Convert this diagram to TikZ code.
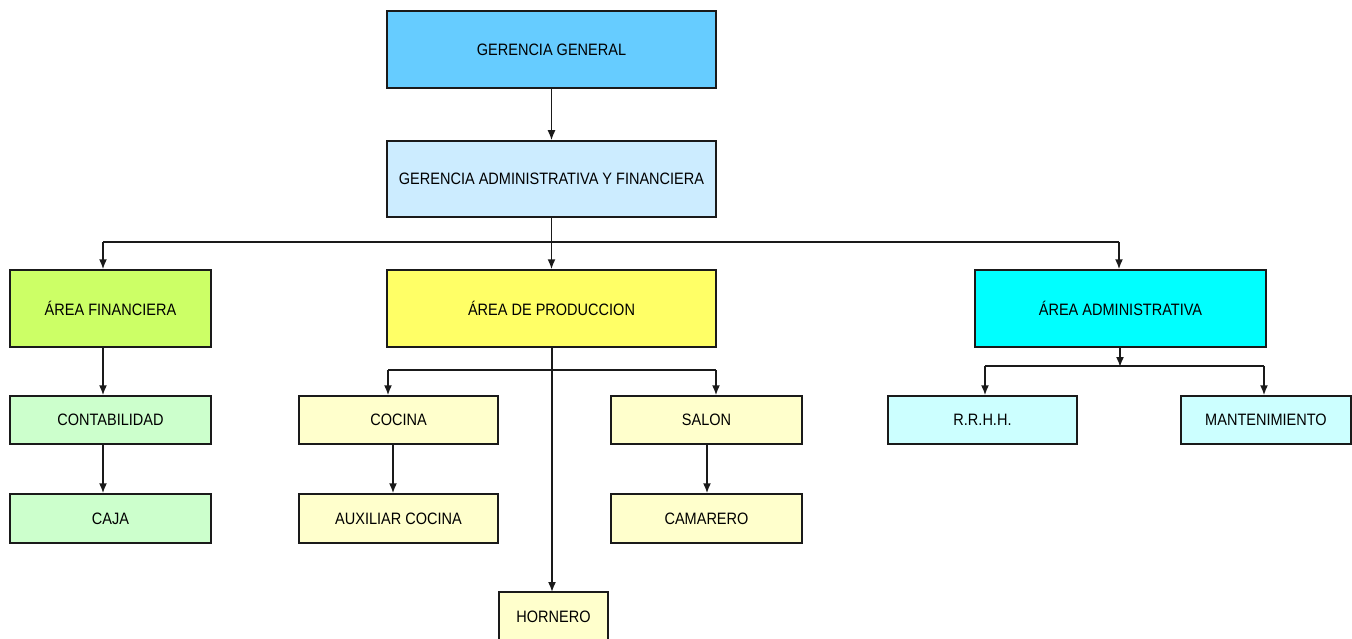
\documentclass[tikz,border=0pt]{standalone}
\usepackage{fontspec}
\setmainfont{Liberation Sans}[FakeStretch=0.88]
\usetikzlibrary{arrows.meta}
\definecolor{cGG}{HTML}{66CCFF}
\definecolor{cGAF}{HTML}{CCECFF}
\definecolor{cAF}{HTML}{CCFF66}
\definecolor{cAP}{HTML}{FFFF66}
\definecolor{cAA}{HTML}{00FFFF}
\definecolor{cFin}{HTML}{CCFFCC}
\definecolor{cProd}{HTML}{FFFFCC}
\definecolor{cAdm}{HTML}{CCFFFF}
\definecolor{cLine}{HTML}{1A1A1A}
\tikzset{
  box/.style={draw=cLine, line width=1.5pt, inner sep=0pt, font=\fontsize{16.5}{19}\selectfont, text=black},
  link/.style={draw=cLine, line width=1.6pt},
  arr/.style={link, -{Latex[length=10pt,width=8pt]}},
}
\begin{document}
\begin{tikzpicture}[x=1pt,y=-1pt]
\clip (0,0) rectangle (1352,639);
\fill[white] (0,0) rectangle (1352,639);

% top management
\node[box, fill=cGG,  minimum width=329pt, minimum height=77pt] (gg)  at (551.5,49.5)  {GERENCIA GENERAL};
\node[box, fill=cGAF, minimum width=329pt, minimum height=76pt] (gaf) at (551.5,179)   {GERENCIA ADMINISTRATIVA Y FINANCIERA};

% areas
\node[box, fill=cAF, minimum width=201pt, minimum height=77pt] (af) at (110.5,308.5)  {ÁREA FINANCIERA};
\node[box, fill=cAP, minimum width=329pt, minimum height=77pt] (ap) at (551.5,308.5)  {ÁREA DE PRODUCCION};
\node[box, fill=cAA, minimum width=291pt, minimum height=77pt] (aa) at (1120.5,308.5) {ÁREA ADMINISTRATIVA};

% finance
\node[box, fill=cFin, minimum width=201pt, minimum height=48pt] (cont) at (110.5,420) {CONTABILIDAD};
\node[box, fill=cFin, minimum width=201pt, minimum height=49pt] (caja) at (110.5,518.5) {CAJA};

% production
\node[box, fill=cProd, minimum width=199pt, minimum height=48pt] (coc) at (398.5,420)   {COCINA};
\node[box, fill=cProd, minimum width=199pt, minimum height=49pt] (aux) at (398.5,518.5) {AUXILIAR COCINA};
\node[box, fill=cProd, minimum width=191pt, minimum height=48pt] (sal) at (706.5,420)   {SALON};
\node[box, fill=cProd, minimum width=191pt, minimum height=49pt] (cam) at (706.5,518.5) {CAMARERO};
\node[box, fill=cProd, minimum width=109pt, minimum height=49pt] (hor) at (553.5,616.5) {HORNERO};

% administration
\node[box, fill=cAdm, minimum width=189pt, minimum height=48pt] (rrhh) at (982.5,420)  {R.R.H.H.};
\node[box, fill=cAdm, minimum width=170pt, minimum height=48pt] (mant) at (1266,420)   {MANTENIMIENTO};

% bus coordinates
\coordinate (busL) at (103,242);
\coordinate (busR) at (1119,242);
\coordinate (pL) at (388,370);
\coordinate (pR) at (716,370);
\coordinate (aM) at (1120,366);
\coordinate (aL) at (985,366);
\coordinate (aR) at (1264,366);

% connectors
\draw[arr] (gg.south) -- (gaf.north);
\draw[arr] (gaf.south) -- (ap.north);
\draw[link] (busL) -- (busR);
\draw[arr] (busL) -- (busL |- af.north);
\draw[arr] (busR) -- (busR |- aa.north);

\draw[arr] (af.south -| busL) -- (busL |- cont.north);
\draw[arr] (cont.south -| busL) -- (busL |- caja.north);

\draw[arr] (552,347) -- (552,592);
\draw[link] (pL) -- (pR);
\draw[arr] (pL) -- (pL |- coc.north);
\draw[arr] (pR) -- (pR |- sal.north);
\draw[arr] (coc.south -| 393,0) -- (aux.north -| 393,0);
\draw[arr] (sal.south -| 707,0) -- (cam.north -| 707,0);

\draw[arr] (aa.south -| aM) -- ([yshift=-1pt]aM);
\draw[link] (aL) -- (aR);
\draw[arr] (aL) -- (aL |- rrhh.north);
\draw[arr] (aR) -- (aR |- mant.north);
\end{tikzpicture}
\end{document}
